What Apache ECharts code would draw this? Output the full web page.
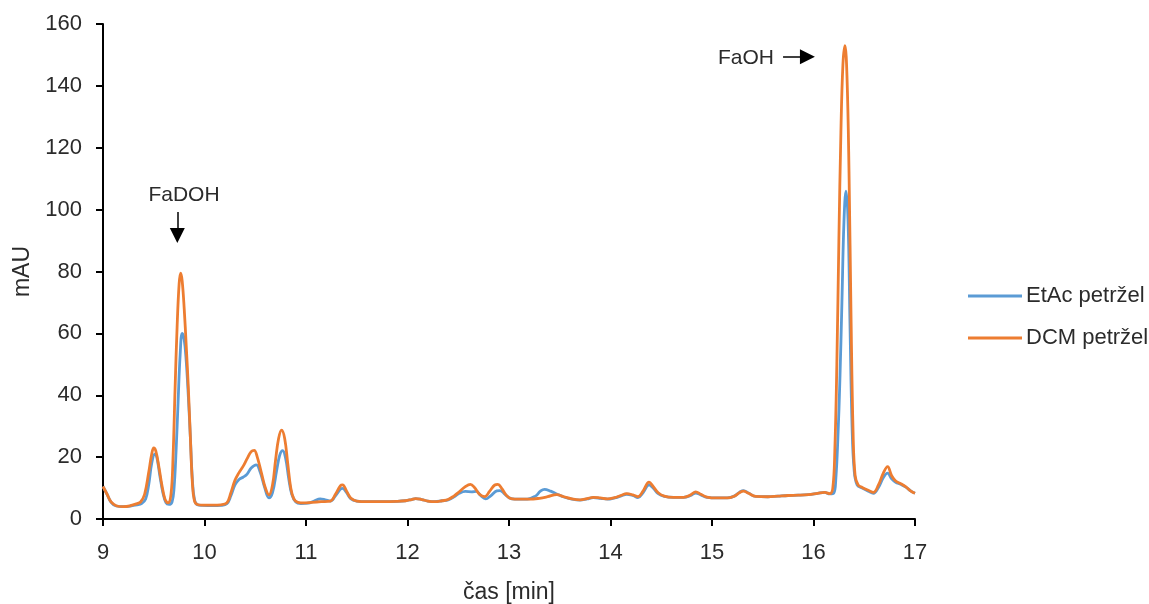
<!DOCTYPE html>
<html>
<head>
<meta charset="utf-8">
<script src="https://cdn.jsdelivr.net/npm/echarts@6/dist/echarts.min.js"></script>
<style>
html,body{margin:0;padding:0;background:#fff;}
#chart{width:1149px;height:604px;}
</style>
</head>
<body>
<div id="chart"></div>
<script>
const seriesNames = ['EtAc petržel', 'DCM petržel'];

const timeEtac = [9.00,9.04,9.08,9.13,9.20,9.27,9.33,9.38,9.42,9.45,9.48,9.51,9.53,9.56,9.59,9.62,9.65,9.68,9.70,9.72,9.74,9.76,9.78,9.80,9.82,9.84,9.86,9.88,9.90,9.93,9.98,10.08,10.16,10.22,10.26,10.30,10.34,10.38,10.42,10.46,10.51,10.55,10.59,10.635,10.67,10.71,10.74,10.77,10.80,10.83,10.86,10.90,10.95,11.02,11.08,11.14,11.19,11.24,11.29,11.34,11.36,11.40,11.44,11.50,11.60,11.75,11.90,11.98,12.04,12.08,12.14,12.20,12.27,12.34,12.40,12.46,12.51,12.57,12.63,12.68,12.72,12.77,12.82,12.88,12.91,12.95,13.00,13.06,13.18,13.26,13.31,13.35,13.41,13.47,13.54,13.62,13.70,13.77,13.83,13.90,13.97,14.04,14.10,14.16,14.22,14.27,14.32,14.38,14.42,14.47,14.53,14.62,14.72,14.79,14.84,14.89,14.95,15.05,15.15,15.22,15.27,15.31,15.36,15.43,15.55,15.65,15.75,15.85,15.95,16.04,16.11,16.16,16.20,16.22,16.24,16.26,16.28,16.30,16.32,16.34,16.36,16.38,16.40,16.43,16.48,16.54,16.59,16.64,16.69,16.73,16.77,16.81,16.86,16.91,16.96,17.00];
const valueEtac = [10.5,8.0,5.4,4.2,4.0,4.2,4.6,5.0,6.5,11,18,21,20,14,8.5,5.3,4.7,5.5,10,22,38,53,60,58,51,40,27,13,6.5,4.6,4.4,4.3,4.4,4.9,7.5,11,12.8,13.5,14.5,16.5,17.5,15,10.5,6.8,8.5,15.5,20.5,22.1,19.5,13,8,5.5,5.0,5.1,5.8,6.5,6.2,5.8,7.5,9.7,9.9,8.5,6.6,5.8,5.6,5.6,5.7,5.9,6.3,6.6,6.3,5.8,5.6,5.9,6.2,7.2,8.3,8.9,8.8,8.9,7.6,6.5,7.5,9.1,9.2,8.3,6.9,6.4,6.4,7.4,9.0,9.6,9.0,8.1,7.1,6.4,6.1,6.5,6.9,6.7,6.4,6.8,7.4,8.0,7.6,6.9,8.5,11.0,10.0,8.2,7.3,7.0,7.0,7.6,8.4,7.8,7.0,6.8,6.8,7.4,8.6,9.2,8.4,7.3,7.2,7.4,7.6,7.7,7.9,8.3,8.6,8.1,8.4,13,26,45,70,96,106,97,62,30,16,11,10.0,9.0,8.3,10.2,13.5,14.8,13,11.9,11.2,10.3,9,8.3];

const timeDcm = [9.00,9.04,9.08,9.13,9.20,9.27,9.33,9.37,9.41,9.45,9.48,9.50,9.52,9.55,9.58,9.61,9.64,9.67,9.69,9.71,9.73,9.75,9.765,9.78,9.80,9.82,9.84,9.86,9.88,9.90,9.93,9.98,10.08,10.16,10.22,10.26,10.30,10.34,10.38,10.42,10.46,10.49,10.52,10.56,10.60,10.635,10.67,10.70,10.73,10.76,10.79,10.82,10.85,10.88,10.92,10.98,11.06,11.15,11.24,11.29,11.34,11.36,11.40,11.44,11.50,11.60,11.75,11.90,11.98,12.04,12.08,12.14,12.20,12.27,12.34,12.40,12.46,12.51,12.56,12.62,12.66,12.71,12.76,12.81,12.86,12.89,12.93,12.97,13.02,13.10,13.20,13.30,13.38,13.47,13.54,13.62,13.70,13.77,13.83,13.90,13.97,14.04,14.10,14.16,14.22,14.27,14.32,14.38,14.42,14.47,14.53,14.62,14.72,14.79,14.84,14.89,14.95,15.05,15.15,15.22,15.27,15.31,15.36,15.43,15.55,15.65,15.75,15.85,15.95,16.04,16.11,16.16,16.19,16.21,16.23,16.25,16.27,16.29,16.31,16.33,16.35,16.37,16.39,16.41,16.44,16.48,16.54,16.59,16.64,16.69,16.73,16.77,16.81,16.86,16.91,16.96,17.00];
const valueDcm = [10.5,8.0,5.5,4.3,4.0,4.3,4.9,5.5,8,15,21,23,22,17,11,6.5,5.2,8,20,42,62,76,79.5,77,68,56,43,27,12,6,4.7,4.5,4.5,4.6,5.2,8.5,12.5,15,17,19.5,21.8,22.2,20,15,10,7.8,11,19,26,28.7,26,18,10,6.5,5.4,5.2,5.4,5.6,5.8,8,10.8,11,9,6.8,5.8,5.6,5.6,5.7,5.9,6.3,6.6,6.3,5.8,5.6,5.9,6.3,7.5,8.8,10.2,11.2,10.2,8,7.2,9,11,11.2,9.8,7.8,6.6,6.4,6.4,6.7,7.2,7.9,7.2,6.5,6.2,6.6,7.0,6.8,6.5,6.9,7.6,8.2,7.8,7.2,9,11.9,10.5,8.5,7.4,7.0,7.0,7.8,8.8,8.0,7.1,6.8,6.8,7.4,8.5,9.0,8.3,7.3,7.2,7.4,7.6,7.7,7.9,8.3,8.6,8.2,10,22,50,90,125,147,153,143,112,65,28,14,11,10.2,9.3,8.6,11,15,16.9,14,12.3,11.4,10.4,9,8.3];

const xTicks = [9, 10, 11, 12, 13, 14, 15, 16, 17];
const yTicks = [0, 20, 40, 60, 80, 100, 120, 140, 160];

const annotationText = ['FaDOH', 'FaOH'];
const annotationPos = [[9.798, 104.7], [15.335, 149.0]];
const arrowFaDOH = [[9.732, 99.2], [9.732, 91.6]];
const arrowFaOH = [[15.70, 149.4], [15.94, 149.4]];

const FONT = 'Liberation Sans';
const TXT = '#2b2b2b';

function zip(t, v) { return t.map((x, i) => [x, v[i]]); }

const chart = echarts.init(document.getElementById('chart'), null, {renderer: 'canvas'});
const axisLine = {show: true, onZero: false, lineStyle: {color: '#000', width: 2}};
const axisTick = {show: true, inside: false, length: 7, lineStyle: {color: '#000', width: 2}};

chart.setOption({
  animation: false,
  backgroundColor: '#fff',
  textStyle: {fontFamily: FONT},
  grid: {left: 103, right: 234, top: 24, bottom: 85, containLabel: false, outerBoundsMode: 'none'},
  legend: {
    orient: 'vertical',
    left: 968,
    top: 285,
    padding: 0,
    itemWidth: 54,
    itemHeight: 3,
    itemGap: 20,
    icon: 'rect',
    data: seriesNames,
    textStyle: {fontFamily: FONT, fontSize: 22, color: TXT, padding: [0, 0, 0, -1]}
  },
  xAxis: {
    type: 'value',
    min: xTicks[0], max: xTicks[xTicks.length - 1], interval: 1,
    name: 'čas [min]', nameLocation: 'middle', nameGap: 62,
    nameTextStyle: {fontFamily: FONT, fontSize: 23, color: TXT},
    axisLine, axisTick,
    splitLine: {show: false},
    axisLabel: {fontFamily: FONT, fontSize: 22, color: TXT, margin: 23}
  },
  yAxis: {
    type: 'value',
    min: yTicks[0], max: yTicks[yTicks.length - 1], interval: 20,
    name: 'mAU', nameLocation: 'middle', nameGap: 66,
    nameTextStyle: {fontFamily: FONT, fontSize: 23, color: TXT},
    axisLine, axisTick,
    splitLine: {show: false},
    axisLabel: {fontFamily: FONT, fontSize: 22, color: TXT, margin: 21}
  },
  series: [
    {
      name: seriesNames[0], type: 'line', data: zip(timeEtac, valueEtac),
      showSymbol: false, smooth: 0.4, color: '#5B9BD5',
      lineStyle: {width: 2.8, color: '#5B9BD5'}
    },
    {
      name: seriesNames[1], type: 'line', data: zip(timeDcm, valueDcm),
      showSymbol: false, smooth: 0.4, color: '#ED7D31',
      lineStyle: {width: 2.8, color: '#ED7D31'},
      markPoint: {
        silent: true,
        symbol: 'rect', symbolSize: 1,
        itemStyle: {color: 'rgba(0,0,0,0)'},
        label: {show: true, position: 'inside', formatter: p => p.name, fontFamily: FONT, fontSize: 21, color: TXT},
        data: annotationText.map((t, i) => ({name: t, coord: annotationPos[i]}))
      },
      markLine: {
        silent: true,
        symbol: ['none', 'triangle'],
        symbolSize: [15, 15],
        label: {show: false},
        lineStyle: {color: '#000', width: 1.5, type: 'solid'},
        data: [
          [{coord: arrowFaDOH[0]}, {coord: arrowFaDOH[1]}],
          [{coord: arrowFaOH[0]}, {coord: arrowFaOH[1]}]
        ]
      }
    }
  ]
});
</script>
</body>
</html>
